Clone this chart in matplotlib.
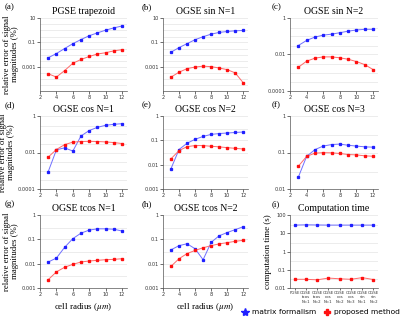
import numpy as np
from matplotlib import pyplot as plt
from matplotlib import ticker

# cell radius (um)
radius = [3, 4, 5, 6, 7, 8, 9, 10, 11, 12]

titles = ["PGSE trapezoid", "OGSE sin N=1", "OGSE sin N=2",
          "OGSE cos N=1", "OGSE cos N=2", "OGSE cos N=3",
          "OGSE tcos N=1", "OGSE tcos N=2"]
letters = ["(a)", "(b)", "(c)", "(d)", "(e)", "(f)", "(g)", "(h)", "(i)"]

# relative error (%) - matrix formalism
matrix_err = [
    [0.0054, 0.012, 0.031, 0.078, 0.17, 0.35, 0.6, 1.0, 1.55, 2.2],
    [0.0155, 0.037, 0.078, 0.165, 0.29, 0.47, 0.65, 0.78, 0.89, 0.94],
    [0.031, 0.059, 0.09, 0.115, 0.13, 0.156, 0.19, 0.22, 0.24, 0.24],
    [0.00089, 0.014, 0.018, 0.012, 0.081, 0.16, 0.24, 0.31, 0.35, 0.38],
    [0.0069, 0.042, 0.076, 0.11, 0.145, 0.175, 0.19, 0.2, 0.21, 0.22],
    [0.021, 0.078, 0.12, 0.15, 0.165, 0.17, 0.158, 0.15, 0.143, 0.14],
    [0.0117, 0.017, 0.047, 0.107, 0.18, 0.24, 0.27, 0.27, 0.26, 0.22],
    [0.037, 0.055, 0.066, 0.041, 0.0145, 0.075, 0.14, 0.19, 0.25, 0.33],
]
# relative error (%) - proposed method
proposed_err = [
    [0.00026, 0.00014, 0.00048, 0.0019, 0.0039, 0.0069, 0.011, 0.014, 0.02, 0.025],
    [0.00014, 0.00035, 0.00069, 0.00093, 0.0011, 0.001, 0.00078, 0.00057, 0.00031, 0.000048],
    [0.002, 0.0043, 0.0063, 0.0074, 0.0074, 0.0066, 0.0055, 0.0041, 0.0028, 0.0015],
    [0.0056, 0.0146, 0.027, 0.037, 0.04, 0.041, 0.04, 0.038, 0.035, 0.031],
    [0.0175, 0.038, 0.055, 0.061, 0.061, 0.057, 0.054, 0.05, 0.047, 0.044],
    [0.042, 0.078, 0.096, 0.099, 0.098, 0.094, 0.088, 0.086, 0.081, 0.079],
    [0.0022, 0.0046, 0.0071, 0.0094, 0.0117, 0.0129, 0.0137, 0.0146, 0.015, 0.016],
    [0.0078, 0.016, 0.026, 0.035, 0.045, 0.055, 0.065, 0.073, 0.083, 0.091],
]
# y-limits and labelled ticks per panel
ylims = [(1e-5, 10), (1e-5, 10), (1e-4, 1), (1e-4, 1), (1e-3, 1),
         (1e-2, 1), (1e-3, 1), (1e-3, 1)]
yticks = [[0.001, 0.1, 10], [0.001, 0.1, 10], [0.0001, 0.01, 1],
          [0.0001, 0.01, 1], [0.001, 0.01, 0.1, 1], [0.01, 0.1, 1],
          [0.001, 0.01, 0.1, 1], [0.001, 0.01, 0.1, 1]]
ytick_labels = [["0.001", "0.1", "10"], ["0.001", "0.1", "10"],
                ["0.0001", "0.01", "1"], ["0.0001", "0.01", "1"],
                ["0.001", "0.01", "0.1", "1"], ["0.01", "0.1", "1"],
                ["0.001", "0.01", "0.1", "1"], ["0.001", "0.01", "0.1", "1"]]

# computation time (s)
methods = ["PGSE", "OGSE\ntcos\nN=1", "OGSE\ntcos\nN=2", "OGSE\ncos\nN=1",
           "OGSE\ncos\nN=2", "OGSE\ncos\nN=3", "OGSE\nsin\nN=1", "OGSE\nsin\nN=2"]
matrix_time = [28, 29, 28.5, 28, 28, 28, 28, 28]
proposed_time = [0.03, 0.03, 0.028, 0.035, 0.032, 0.03, 0.037, 0.029]

BLUE_LINE = "#7070ff"
BLUE_MK = "#2020ff"
RED_LINE = "#ff6a6a"
RED_MK = "#ff1010"
SERIF = "Liberation Serif"

plt.rcParams.update({'font.size': 4, 'font.family': 'DejaVu Sans',
                     'mathtext.fontset': 'stix'})
fig = plt.figure(dpi=100, figsize=(4.0, 3.23))

# axes boxes in pixels: left, right for each column; top, bottom for each row
cols = [(40, 127), (163, 248), (290, 378)]
rows = [(18, 91), (116, 189), (215, 288)]
letter_x = [5, 142, 272]
W, H = 400, 323


def style_axis(ax):
    for side in ("top", "right"):
        ax.spines[side].set_visible(False)
    for side in ("left", "bottom"):
        ax.spines[side].set_color("#555555")
        ax.spines[side].set_linewidth(0.5)
    ax.tick_params(length=2, width=0.5, pad=1, colors="#333333", labelsize=3.6)
    ax.tick_params(which="minor", length=0)
    ax.grid(True, axis="y", which="both", color="#dddddd", linewidth=0.4)
    ax.set_axisbelow(True)


axes = []
for idx in range(9):
    r, c = divmod(idx, 3)
    left, right = cols[c]
    top, bottom = rows[r]
    ax = fig.add_axes([left / W, 1 - bottom / H, (right - left) / W, (bottom - top) / H])
    axes.append(ax)
    style_axis(ax)
    ax.set_yscale("log")
    ax.yaxis.set_minor_locator(ticker.LogLocator(base=10, subs=(1.0, 3.0)))
    ax.yaxis.set_minor_formatter(ticker.NullFormatter())
    fig.text(letter_x[c] / W, 1 - (top - 11) / H, letters[idx], family=SERIF,
             fontsize=6.5, ha="left", va="center")

for idx in range(8):
    ax = axes[idx]
    ax.plot(radius, matrix_err[idx], '-', color=BLUE_LINE, linewidth=0.7,
            marker='s', markersize=1.4, markerfacecolor=BLUE_MK, markeredgecolor=BLUE_MK)
    ax.plot(radius, proposed_err[idx], '-', color=RED_LINE, linewidth=0.7,
            marker='s', markersize=1.6, markerfacecolor=RED_MK, markeredgecolor=RED_MK)
    ax.set_ylim(*ylims[idx])
    ax.set_xlim(2, 12.6)
    ax.set_xticks([2, 4, 6, 8, 10, 12])
    ax.set_yticks(yticks[idx])
    ax.set_yticklabels(ytick_labels[idx])
    ax.set_title(titles[idx], family=SERIF, fontsize=7, pad=3)
    if idx % 3 == 0:
        ax.set_ylabel("relative error of signal\nmagnitudes (%)", family=SERIF,
                      fontsize=6.3, labelpad=2, linespacing=1.0)
    if idx >= 6:
        ax.set_xlabel("cell radius ($\\mu m$)", family=SERIF, fontsize=6.5, labelpad=3)

# (i) computation time
ax = axes[8]
xpos = np.arange(len(methods))
ax.plot(xpos, matrix_time, '-', color=BLUE_LINE, linewidth=0.7,
        marker='s', markersize=1.4, markerfacecolor=BLUE_MK, markeredgecolor=BLUE_MK)
ax.plot(xpos, proposed_time, '-', color=RED_LINE, linewidth=0.7,
        marker='s', markersize=1.6, markerfacecolor=RED_MK, markeredgecolor=RED_MK)
ax.set_ylim(0.01, 100)
ax.set_xlim(-0.4, len(methods) - 0.6)
ax.set_yticks([0.01, 0.1, 1, 10, 100])
ax.set_yticklabels(["0.01", "0.1", "1", "10", "100"])
ax.set_xticks(xpos)
ax.set_xticklabels(methods, fontsize=2.8, linespacing=1.2)
ax.tick_params(axis="x", length=1.5, pad=0.5)
ax.set_title("Computation time", family=SERIF, fontsize=7, pad=3)
ax.set_ylabel("computation time (s)", family=SERIF, fontsize=6.5, labelpad=2)

# legend at bottom right
h1, = ax.plot([], [], '*', color=BLUE_MK, markersize=6)
h2, = ax.plot([], [], 'P', color=RED_MK, markersize=5)
fig.legend([h1, h2], ["matrix formalism", "proposed method"], loc="center",
           bbox_to_anchor=(320 / W, 1 - 312 / H), ncol=2, frameon=False,
           fontsize=5.4, handletextpad=0.3, columnspacing=0.9, handlelength=1.2,
           borderaxespad=0, borderpad=0)

fig.savefig("out.png", dpi=100)
